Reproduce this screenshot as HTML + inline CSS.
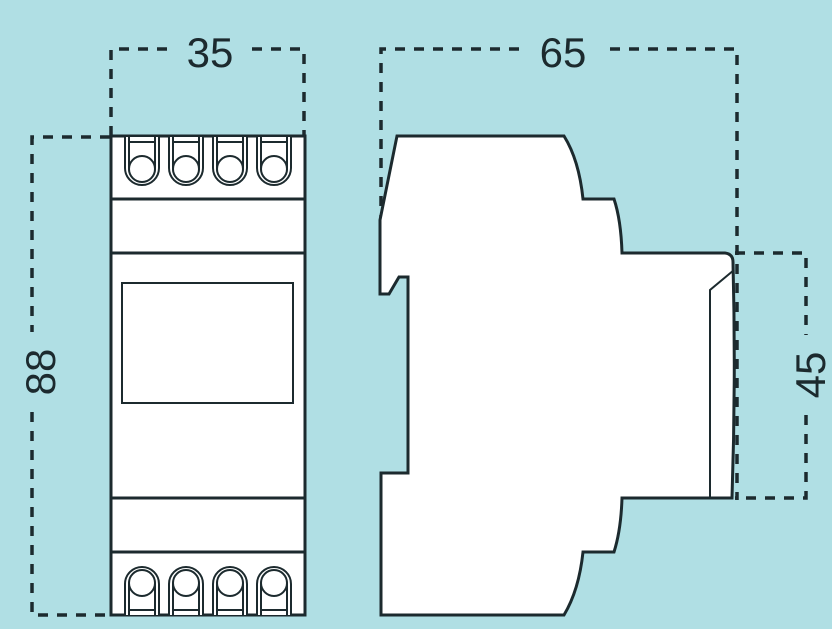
<!DOCTYPE html>
<html><head><style>
html,body{margin:0;padding:0;background:#b0dfe4;}
svg{display:block}
text{font-family:"Liberation Sans",sans-serif;fill:#1c2a2e;}
</style></head><body>
<svg width="832" height="629" viewBox="0 0 832 629" xmlns="http://www.w3.org/2000/svg">
<rect width="832" height="629" fill="#b0dfe4"/>
<g stroke="#1c2a2e" fill="none" stroke-width="3.5" stroke-dasharray="10,9">
 <!-- 35 -->
 <path d="M111 136 V49 H172"/><path d="M252 49 H304 V136"/>
 <!-- 65 -->
 <path d="M381 225 V49 H520"/><path d="M610 49 H737 V500"/>
 <!-- 88 -->
 <path d="M110 137 H32 V332"/><path d="M32 412 V615 H110"/>
 <!-- 45 -->
 <path d="M735 253 H806 V335"/><path d="M806 415 V498 H735"/>
</g>
<text x="210" y="67" font-size="42" text-anchor="middle">35</text>
<text x="563" y="67" font-size="42" text-anchor="middle">65</text>
<text transform="translate(55,372) rotate(-90)" font-size="42" text-anchor="middle">88</text>
<text transform="translate(825,375) rotate(-90)" font-size="42" text-anchor="middle">45</text>
<!-- front view -->
<g stroke="#1c2a2e" stroke-width="3" fill="#fff">
 <rect x="111" y="136" width="194" height="479"/>
 <line x1="111" y1="199" x2="305" y2="199"/>
 <line x1="111" y1="253" x2="305" y2="253"/>
 <line x1="111" y1="498" x2="305" y2="498"/>
 <line x1="111" y1="552" x2="305" y2="552"/>
 <rect x="122" y="283" width="171" height="120" stroke-width="2"/>
</g>
<g stroke="#1c2a2e" stroke-width="2" fill="#fff">
 <g id="t">
  <path d="M125 137 V168 A17 17 0 0 0 159 168 V137"/>
  <path d="M129 137 V168 A13 13 0 0 0 155 168 V137"/>
  <line x1="129" y1="142" x2="155" y2="142"/>
  <circle cx="142" cy="169" r="13"/>
 </g>
 <use href="#t" x="44"/><use href="#t" x="88"/><use href="#t" x="132"/>
 <g transform="translate(0,752) scale(1,-1)">
  <use href="#t"/><use href="#t" x="44"/><use href="#t" x="88"/><use href="#t" x="132"/>
 </g>
</g>
<!-- side view -->
<path d="M397 136 H564 Q579 160 583 199 H614 Q621 220 622 253 H725 Q733 254 733 262 Q736 380 732 498 H622 Q621 530 614 552 H583 Q579 590 564 615 H381 V473 H408 V277 H399 L389 294 H380 V220 Z" fill="#fff" stroke="#1c2a2e" stroke-width="3" stroke-linejoin="miter"/>
<path d="M734 270 L710 290 V498" fill="none" stroke="#1c2a2e" stroke-width="2"/>
</svg>
</body></html>
